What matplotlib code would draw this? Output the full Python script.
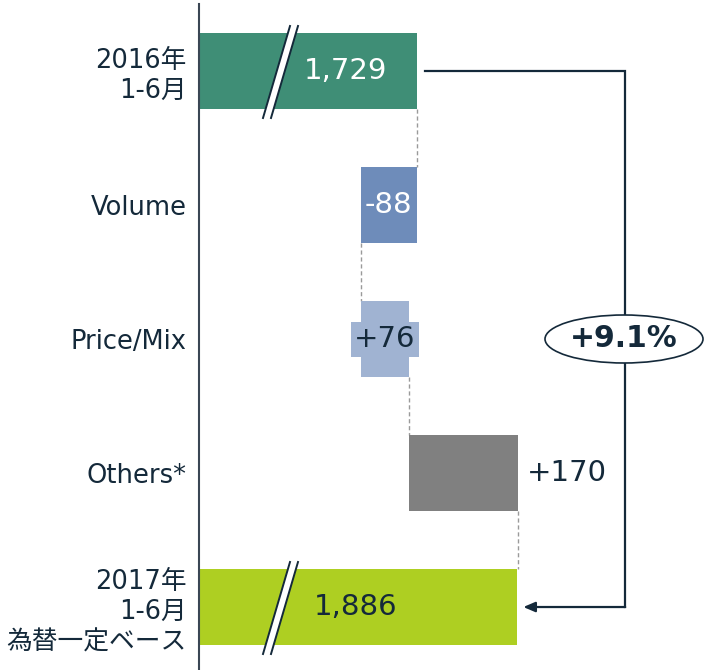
import matplotlib
matplotlib.use("Agg")
import matplotlib.pyplot as plt
from matplotlib.patches import Ellipse, Polygon

plt.rcParams['font.family'] = ['DejaVu Sans', 'Noto Sans CJK JP']

categories = ["2016年\n1-6月", "Volume", "Price/Mix", "Others*", "2017年\n1-6月\n為替一定ベース"]
start_value = 1729
deltas = [-88, 76, 170]
end_value = 1886
value_labels = ["1,729", "-88", "+76", "+170", "1,886"]
growth_label = "+9.1%"

colors = ["#3F8E76", "#6E8CBA", "#A0B3D2", "#808080", "#AECF22"]
dark = "#14293A"

fig = plt.figure(figsize=(7.12, 6.70), dpi=100)
ax = fig.add_axes([199/712, 0, 1 - 199/712, (670-4)/670])
xmin, xmax = 1387, 2192
ax.set_xlim(xmin, xmax)
ax.set_ylim(4.47, -0.5)
h = 0.56

# compute bars
lefts, widths = [], []
lefts.append(xmin); widths.append(start_value - xmin)
cur = start_value
for d in deltas:
    new = cur + d
    lefts.append(min(cur, new)); widths.append(abs(d))
    cur = new
lefts.append(xmin); widths.append(end_value - xmin)

ys = list(range(len(categories)))
ax.barh(ys, widths, left=lefts, height=h, color=colors, zorder=2)

# connectors
cur = start_value
conn_x = [start_value]
for d in deltas:
    cur = cur + d
    conn_x.append(cur)
for i in range(4):
    ax.plot([conn_x[i], conn_x[i]], [i + h/2, i + 1 - h/2], color="#9a9a9a",
            lw=1.0, ls=(0, (3, 2)), zorder=1)

# spines / ticks
for s in ["top", "right", "bottom"]:
    ax.spines[s].set_visible(False)
ax.spines["left"].set_color("#3a4654")
ax.spines["left"].set_linewidth(1.5)
ax.set_xticks([])
ax.set_yticks(ys)
ax.set_yticklabels(categories, fontsize=18.5, color=dark, linespacing=1.2)
ax.tick_params(axis='y', length=0, pad=9)

# value labels
fs = 21
ax.text(1617, 0, value_labels[0], ha="center", va="center", fontsize=fs, color="white", zorder=5)
ax.text(lefts[1] + widths[1]/2, 1, value_labels[1], ha="center", va="center", fontsize=fs, color="white", zorder=5)
ax.text(lefts[2] + widths[2]/2, 2, value_labels[2], ha="center", va="center", fontsize=fs, color=dark, zorder=5,
        bbox=dict(boxstyle="square,pad=0.12", fc=colors[2], ec="none"))
ax.text(lefts[3] + widths[3] + 15, 3, value_labels[3], ha="left", va="center", fontsize=fs, color=dark, zorder=5)
ax.text(1633, 4, value_labels[4], ha="center", va="center", fontsize=fs, color=dark, zorder=5)

# axis break marks
inv = ax.transData.inverted()
for yy in [0, 4]:
    ycen_px = 71 + yy * 134
    top = ycen_px - 45
    bot = ycen_px + 47
    pts = [(263, bot), (290, top), (298, top), (271, bot)]
    dpts = [inv.transform((px, 670 - py)) for px, py in pts]
    ax.add_patch(Polygon(dpts, closed=True, fc="white", ec="none", zorder=3, clip_on=False))
    for (a, b) in [(dpts[0], dpts[1]), (dpts[3], dpts[2])]:
        ax.plot([a[0], b[0]], [a[1], b[1]], color=dark, lw=1.4, zorder=4, clip_on=False)

# bracket
bx = 2055
ax.plot([start_value + 12, bx, bx], [0, 0, 4], color=dark, lw=1.6, zorder=2, solid_joinstyle="miter")
ax.annotate("", xy=(end_value + 10, 4), xytext=(bx + 0.8, 4),
            arrowprops=dict(arrowstyle="-|>,head_length=0.7,head_width=0.3", color=dark, lw=1.6,
                            shrinkA=0, shrinkB=0), zorder=3)
ex, ey = inv.transform((624, 670 - 339))
w_data = 158 / (ax.transData.transform((1, 0))[0] - ax.transData.transform((0, 0))[0])
h_data = 48 / abs(ax.transData.transform((0, 1))[1] - ax.transData.transform((0, 0))[1])
ax.add_patch(Ellipse((ex, ey), w_data, h_data, fc="white", ec=dark, lw=1.2, zorder=4, clip_on=False))
ax.text(ex, ey, growth_label, ha="center", va="center", fontsize=21.5, fontweight="bold", color=dark, zorder=5)

fig.savefig("out.png", dpi=100)
